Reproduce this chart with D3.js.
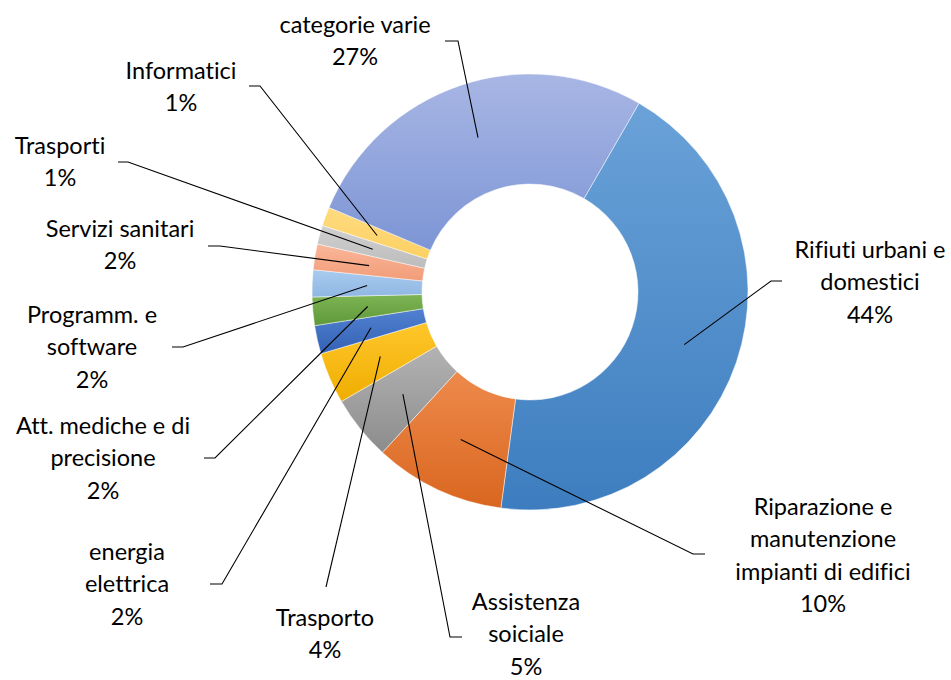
<!DOCTYPE html>
<html>
<head>
<meta charset="utf-8">
<script src="https://cdn.jsdelivr.net/npm/d3@7"></script>
<style>
  body { margin: 0; background: #fff; }
  svg text { font-family: Lato, "Open Sans", sans-serif; font-size: 23.5px; fill: #000; font-variant-ligatures: none; }
</style>
</head>
<body>
<script>

// categories in the order they go round the ring, starting at the Rifiuti slice
var categories = [
  ["Rifiuti urbani e", "domestici"],
  ["Riparazione e", "manutenzione", "impianti di edifici"],
  ["Assistenza", "soiciale"],
  ["Trasporto"],
  ["energia", "elettrica"],
  ["Att. mediche e di", "precisione"],
  ["Programm. e", "software"],
  ["Servizi sanitari"],
  ["Trasporti"],
  ["Informatici"],
  ["categorie varie"]
];

// shares in percent
var values = [43.8, 9.7, 4.8, 3.8, 2.1, 2.1, 2.0, 1.9, 1.4, 1.4, 27.0];

// gradient colours per slice, top and bottom
var topColors = ["#6aa2d8", "#ee8a4c", "#b3b3b3", "#ffc72c", "#5381d2", "#7db555",
                 "#a9cbee", "#f9b79a", "#d0d0d0", "#ffdb80", "#a8b6e4"];
var bottomColors = ["#3d7dbf", "#d9661f", "#8c8c8c", "#efad00", "#3361b3", "#5f9838",
                    "#8fb7e4", "#f29c78", "#bcbcbc", "#fcd062", "#7d95d5"];

// label layout: text centre x, first baseline y, leader start point and elbow length
var labelLayout = [
  { x: 870, y: 258, lx: 782, ly: 281, elbow: -11 },
  { x: 823, y: 515, lx: 705, ly: 554, elbow: -12 },
  { x: 526, y: 610, lx: 462, ly: 637, elbow: -12 },
  { x: 325, y: 626, lx: 326, ly: 587, elbow: 0 },
  { x: 127, y: 560, lx: 210, ly: 584, elbow: 12 },
  { x: 103, y: 434, lx: 204, ly: 458, elbow: 11 },
  { x: 92,  y: 323, lx: 172, ly: 347, elbow: 11 },
  { x: 120, y: 237, lx: 208, ly: 246, elbow: 12 },
  { x: 60,  y: 154, lx: 118, ly: 162, elbow: 10 },
  { x: 181, y: 79,  lx: 249, ly: 86,  elbow: 11 },
  { x: 355, y: 33,  lx: 445, ly: 41,  elbow: 13 }
];

var width = 951, height = 680;
var cx = 530, cy = 292, outerR = 218, innerR = 108;
var lineGap = 32.3;

var svg = d3.select("body").append("svg")
  .attr("width", width)
  .attr("height", height);

var data = values.map(function(v, i) { return { value: v, i: i }; });

// first slice starts at 30 degrees clockwise from the top
var start = 30 * Math.PI / 180;
var pie = d3.pie()
  .value(function(d) { return d.value; })
  .sort(null)
  .startAngle(start)
  .endAngle(start + 2 * Math.PI);

var arc = d3.arc()
  .innerRadius(innerR)
  .outerRadius(outerR);

var defs = svg.append("defs");
data.forEach(function(d, i) {
  var g = defs.append("linearGradient")
    .attr("id", "grad" + i)
    .attr("x1", 0).attr("y1", 0).attr("x2", 0).attr("y2", 1);
  g.append("stop").attr("offset", "0%").attr("stop-color", topColors[i]);
  g.append("stop").attr("offset", "100%").attr("stop-color", bottomColors[i]);
});

var arcs = pie(data);

var chart = svg.append("g")
  .attr("transform", "translate(" + cx + "," + cy + ")");

chart.selectAll("path.slice")
  .data(arcs)
  .enter().append("path")
  .attr("class", "slice")
  .attr("d", arc)
  .attr("fill", function(d) { return "url(#grad" + d.data.i + ")"; })
  .attr("stroke", "#ffffff")
  .attr("stroke-opacity", 0.6)
  .attr("stroke-width", 0.8);

// leader lines: from the label, short horizontal elbow, then into the slice centroid
var leaders = svg.append("g");
arcs.forEach(function(d, i) {
  var lay = labelLayout[i];
  var c = arc.centroid(d);
  var pts = [[lay.lx, lay.ly], [lay.lx + lay.elbow, lay.ly], [cx + c[0], cy + c[1]]];
  leaders.append("path")
    .attr("d", d3.line()(pts))
    .attr("fill", "none")
    .attr("stroke", "#000")
    .attr("stroke-width", 1.1);
});

// labels: name lines plus the rounded share
var labels = svg.append("g");
arcs.forEach(function(d, i) {
  var lay = labelLayout[i];
  var lines = categories[i].concat([Math.round(d.data.value) + "%"]);
  var t = labels.append("text")
    .attr("text-anchor", "middle");
  lines.forEach(function(s, k) {
    t.append("tspan")
      .attr("x", lay.x)
      .attr("y", lay.y + k * lineGap)
      .text(s);
  });
});

</script>
</body>
</html>
